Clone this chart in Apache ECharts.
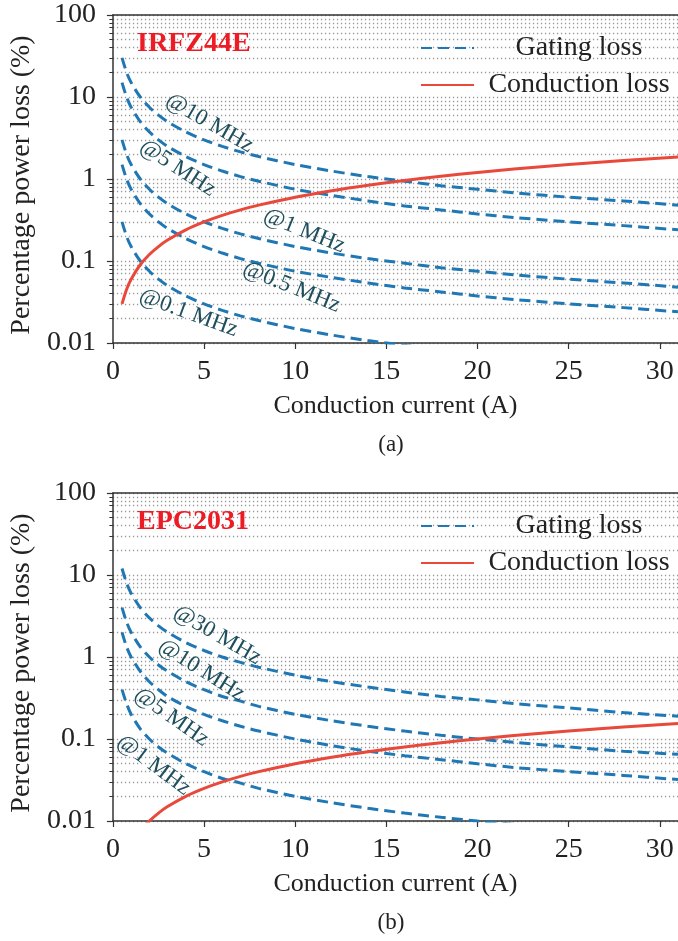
<!DOCTYPE html>
<html>
<head>
<meta charset="utf-8">
<title>Gating loss vs conduction loss</title>
<script src="https://cdn.jsdelivr.net/npm/echarts@6.0.0/dist/echarts.min.js"></script>
<style>
  html, body { margin: 0; padding: 0; background: #fff; }
  #chart { width: 678px; height: 941px; }
</style>
</head>
<body>
<div id="chart"></div>
<script>
// conduction current (A), shared x values of every curve
const currents = [0.5, 0.75, 1, 1.5, 2, 2.5, 3, 4, 5, 6, 7, 8, 10, 12, 14, 16, 18, 20, 22, 25, 28, 31];

// (a) IRFZ44E, percentage power loss (%)
const irfGate10 = [30, 20, 15, 10, 7.5, 6, 5, 3.75, 3, 2.5, 2.14, 1.88, 1.5, 1.25, 1.07, 0.94, 0.83, 0.75, 0.68, 0.6, 0.54, 0.48];
const irfGate5 = [15, 10, 7.5, 5, 3.75, 3, 2.5, 1.88, 1.5, 1.25, 1.07, 0.94, 0.75, 0.63, 0.54, 0.47, 0.42, 0.375, 0.34, 0.3, 0.27, 0.24];
const irfGate1 = [3, 2, 1.5, 1, 0.75, 0.6, 0.5, 0.375, 0.3, 0.25, 0.214, 0.188, 0.15, 0.125, 0.107, 0.094, 0.083, 0.075, 0.068, 0.06, 0.054, 0.048];
const irfGate05 = [1.5, 1, 0.75, 0.5, 0.375, 0.3, 0.25, 0.188, 0.15, 0.125, 0.107, 0.094, 0.075, 0.063, 0.054, 0.047, 0.042, 0.0375, 0.034, 0.03, 0.027, 0.024];
const irfGate01 = [0.3, 0.2, 0.15, 0.1, 0.075, 0.06, 0.05, 0.0375, 0.03, 0.025, 0.0214, 0.0188, 0.015, 0.0125, 0.0107, 0.0094, 0.0083, 0.0075, 0.0068, 0.006, 0.0054, 0.0048];
const irfCond = [0.03, 0.045, 0.06, 0.09, 0.12, 0.15, 0.18, 0.24, 0.3, 0.36, 0.42, 0.48, 0.6, 0.72, 0.84, 0.96, 1.08, 1.2, 1.32, 1.5, 1.68, 1.86];
const irfLabels = ['@10 MHz', '@5 MHz', '@1 MHz', '@0.5 MHz', '@0.1 MHz'];

// (b) EPC2031
const epcGate30 = [12, 8, 6, 4, 3, 2.4, 2, 1.5, 1.2, 1, 0.86, 0.75, 0.6, 0.5, 0.43, 0.375, 0.33, 0.3, 0.27, 0.24, 0.21, 0.19];
const epcGate10 = [4, 2.67, 2, 1.33, 1, 0.8, 0.67, 0.5, 0.4, 0.33, 0.29, 0.25, 0.2, 0.167, 0.143, 0.125, 0.111, 0.1, 0.091, 0.08, 0.071, 0.065];
const epcGate5 = [2, 1.33, 1, 0.67, 0.5, 0.4, 0.33, 0.25, 0.2, 0.167, 0.143, 0.125, 0.1, 0.083, 0.071, 0.0625, 0.056, 0.05, 0.045, 0.04, 0.036, 0.032];
const epcGate1 = [0.4, 0.27, 0.2, 0.133, 0.1, 0.08, 0.067, 0.05, 0.04, 0.033, 0.029, 0.025, 0.02, 0.0167, 0.0143, 0.0125, 0.0111, 0.01, 0.0091, 0.008, 0.0071, 0.0065];
const epcCond = [0.0025, 0.0038, 0.005, 0.0075, 0.01, 0.0125, 0.015, 0.02, 0.025, 0.03, 0.035, 0.04, 0.05, 0.06, 0.07, 0.08, 0.09, 0.1, 0.11, 0.125, 0.14, 0.155];
const epcLabels = ['@30 MHz', '@10 MHz', '@5 MHz', '@1 MHz'];

const legendNames = ['Gating loss', 'Conduction loss'];
const xTicks = [0, 5, 10, 15, 20, 25, 30];

// where the frequency labels sit (data coords) and their tilt
const irfSpots = [[5.3, 4.8, -30], [3.55, 1.36, -33], [10.5, 0.232, -22], [9.8, 0.048, -22], [4.15, 0.0232, -20]];
const epcSpots = [[5.73, 1.85, -30], [4.86, 0.69, -32], [3.22, 0.185, -35], [2.24, 0.048, -37]];

const FONT = "'Liberation Serif', 'DejaVu Serif', serif";
const BLUE = '#1f77b4';
const RED = '#e8493b';
const TEAL = '#1f4f5d';
const INK = '#222';

// 1..9 x each decade, for the dotted grid and minor ticks
const gridValues = [];
for (let e = -2; e <= 2; e++) {
  for (let m = 1; m <= 9; m++) {
    if (e === 2 && m > 1) break;
    gridValues.push(Number((m * Math.pow(10, e)).toPrecision(3)));
  }
}

const chart = echarts.init(document.getElementById('chart'));

const grids = [];
const xAxes = [];
const yAxes = [];
const series = [];
const legends = [];
const titles = [];

function addPanel(i, top, name, caption, gates, labels, spots, cond) {
  grids.push({ left: 111, right: 0, top: top, height: 328 });

  xAxes.push({
    type: 'value', gridIndex: i, min: 0, max: 31, interval: 5,
    name: 'Conduction current (A)', nameLocation: 'middle', nameGap: 50,
    nameTextStyle: { fontFamily: FONT, fontSize: 26, color: INK },
    axisLine: { onZero: false, lineStyle: { color: '#333', width: 1.5 } },
    axisTick: { length: 6, lineStyle: { color: '#333', width: 1.2 } },
    axisLabel: { fontFamily: FONT, fontSize: 28, color: INK, margin: 15, showMaxLabel: false,
      formatter: v => xTicks.indexOf(v) >= 0 ? String(v) : '' },
    splitLine: { show: false }
  });
  // top spine
  xAxes.push({
    type: 'value', gridIndex: i, position: 'top', min: 0, max: 31,
    axisLine: { show: true, onZero: false, lineStyle: { color: '#333', width: 1.5 } },
    axisTick: { show: false }, axisLabel: { show: false }, splitLine: { show: false }
  });

  yAxes.push({
    type: 'log', logBase: 10, gridIndex: i, position: 'left', min: 0.01, max: 100,
    name: 'Percentage power loss (%)', nameLocation: 'middle', nameGap: 70, nameRotate: 90,
    nameTextStyle: { fontFamily: FONT, fontSize: 28, color: INK, padding: [0, 12, 0, 0] },
    axisLine: { show: true, onZero: false, lineStyle: { color: '#333', width: 1.5 } },
    axisTick: { show: true, length: 6, lineStyle: { color: '#333', width: 1.2 } },
    axisLabel: { fontFamily: FONT, fontSize: 28, color: INK, margin: 17 },
    splitLine: { show: false }
  });
  // minor ticks + dotted grid
  yAxes.push({
    type: 'log', logBase: 10, gridIndex: i, position: 'left', min: 0.01, max: 100,
    axisLine: { show: false }, axisLabel: { show: false },
    axisTick: { show: true, length: 3.5, customValues: gridValues, lineStyle: { color: '#333', width: 1 } },
    splitLine: { show: true, lineStyle: { color: '#9a9a9a', width: 1.3, type: [1.3, 2.7] } }
  });

  gates.forEach((vals, k) => {
    series.push({
      name: 'Gating loss', type: 'line', xAxisIndex: i * 2, yAxisIndex: i * 2,
      data: currents.map((c, j) => [c, vals[j]]),
      showSymbol: false, symbol: 'none', smooth: 0.3,
      lineStyle: { color: BLUE, width: 3, type: [11, 6] },
      itemStyle: { color: BLUE },
      markPoint: {
        silent: true, symbol: 'circle', symbolSize: 1, itemStyle: { color: 'rgba(0,0,0,0)' },
        label: { show: true, position: 'inside', formatter: labels[k], rotate: spots[k][2],
          color: TEAL, fontFamily: FONT, fontSize: 23 },
        data: [{ coord: [spots[k][0], spots[k][1]] }]
      }
    });
  });
  series.push({
    name: 'Conduction loss', type: 'line', xAxisIndex: i * 2, yAxisIndex: i * 2,
    data: currents.map((c, j) => [c, cond[j]]),
    showSymbol: false, symbol: 'none', smooth: 0.3,
    lineStyle: { color: RED, width: 3 },
    itemStyle: { color: RED }
  });

  legends.push({
    data: legendNames, orient: 'vertical', left: 420, top: top + 19,
    itemWidth: 53, itemHeight: 14, itemGap: 9, padding: 0, selectedMode: false,
    itemStyle: { opacity: 0 },
    formatter: '{c|{name}}',
    textStyle: { rich: { c: { width: 200, align: 'center', fontSize: 28, fontFamily: FONT, color: INK, lineHeight: 30 } } }
  });

  titles.push({ text: name, left: 137, top: top + 15, padding: 0,
    textStyle: { color: '#ed1c24', fontWeight: 'bold', fontFamily: FONT, fontSize: 28 } });
  titles.push({ text: caption, left: 391, textAlign: 'center', top: top + 418, padding: 0,
    textStyle: { color: INK, fontWeight: 'normal', fontFamily: FONT, fontSize: 23 } });
}

addPanel(0, 15, 'IRFZ44E', '(a)', [irfGate10, irfGate5, irfGate1, irfGate05, irfGate01], irfLabels, irfSpots, irfCond);
addPanel(1, 493, 'EPC2031', '(b)', [epcGate30, epcGate10, epcGate5, epcGate1], epcLabels, epcSpots, epcCond);

chart.setOption({
  animation: false,
  backgroundColor: '#fff',
  title: titles,
  legend: legends,
  grid: grids,
  xAxis: xAxes,
  yAxis: yAxes,
  series: series
});

window.addEventListener('resize', () => chart.resize());
</script>
</body>
</html>
